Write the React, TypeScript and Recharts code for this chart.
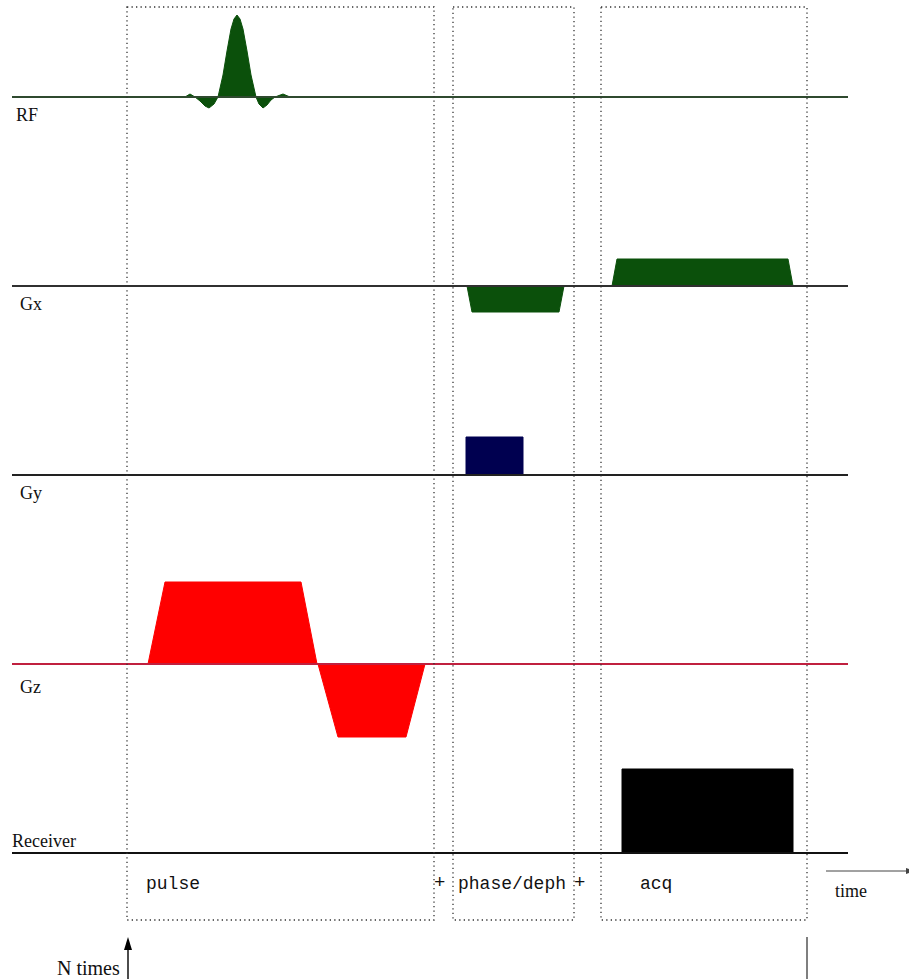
import React from 'react';
import { ComposedChart, Area, XAxis, YAxis, ReferenceLine, ReferenceArea, ReferenceDot } from 'recharts';

// time in ms (t = 0 at the start of the repeated block), amplitude in arbitrary units
const rfPulse = [
  { t: 5.7, v: 0 }, { t: 6.2, v: 0.3 }, { t: 6.7, v: 0 },
  { t: 7.2, v: -0.4 }, { t: 7.7, v: -0.9 }, { t: 8.1, v: -1.1 }, { t: 8.6, v: -0.7 }, { t: 9.0, v: 0 },
  { t: 9.5, v: 2.2 }, { t: 9.9, v: 4.6 }, { t: 10.3, v: 6.8 }, { t: 10.6, v: 7.8 }, { t: 10.9, v: 8.2 },
  { t: 11.2, v: 7.8 }, { t: 11.5, v: 6.8 }, { t: 11.9, v: 4.6 }, { t: 12.3, v: 2.2 }, { t: 12.8, v: 0 },
  { t: 13.1, v: -0.7 }, { t: 13.5, v: -1.1 }, { t: 13.9, v: -0.8 }, { t: 14.3, v: -0.3 }, { t: 14.7, v: 0 },
  { t: 15.5, v: 0.3 }, { t: 16.2, v: 0 },
];

const gxWave = [
  { t: 33.9, v: 0 }, { t: 34.4, v: -2.6 }, { t: 43.1, v: -2.6 }, { t: 43.6, v: 0 },
  { t: 48.4, v: 0 }, { t: 48.9, v: 2.7 }, { t: 66.0, v: 2.7 }, { t: 66.5, v: 0 },
];

const gyWave = [
  { t: 33.8, v: 0 }, { t: 33.8, v: 3.8 }, { t: 39.5, v: 3.8 }, { t: 39.5, v: 0 },
];

const gzWave = [
  { t: 2.0, v: 0 }, { t: 3.7, v: 8.2 }, { t: 17.3, v: 8.2 }, { t: 18.9, v: 0 },
  { t: 19.0, v: 0 }, { t: 21.0, v: -7.3 }, { t: 27.8, v: -7.3 }, { t: 29.7, v: 0 },
];

const receiverWave = [
  { t: 49.4, v: 0 }, { t: 49.4, v: 8.4 }, { t: 66.5, v: 8.4 }, { t: 66.5, v: 0 },
];

const channelLabels = ['RF', 'Gx', 'Gy', 'Gz', 'Receiver'];
const blockLabels = ['pulse', 'phase/deph', 'acq'];
const blockStart = [-0.1, 32.5, 47.3];
const blockEnd = [30.6, 44.6, 67.9];

const X_DOMAIN: [number, number] = [-12.8, 78.1];
const ROW_DOMAIN: [number, number] = [-9.9, 9.0];
const LINE_START = -11.6;
const LINE_END = 72.0;

const serif = '"Liberation Serif", "Times New Roman", serif';
const mono = '"Liberation Mono", "Courier New", monospace';

const rows = [
  { data: rfPulse, fill: '#0b500b', line: '#2f4a2f', top: 7 },
  { data: gxWave, fill: '#0b500b', line: '#303030', top: 196 },
  { data: gyWave, fill: '#000050', line: '#222', top: 385 },
  { data: gzWave, fill: '#ff0000', line: '#c0203f', top: 574 },
  { data: receiverWave, fill: '#000000', line: '#111', top: 763 },
];

const labelPos = [
  { x: 16, y: 104 }, { x: 20, y: 293 }, { x: 20, y: 482 }, { x: 20, y: 676 }, { x: 12, y: 830 },
];

const Row = ({ data, fill, line, top }: any) => (
  <div style={{ position: 'absolute', left: 0, top }}>
    <ComposedChart width={909} height={189} data={data} margin={{ top: 0, right: 0, bottom: 0, left: 0 }}>
      <XAxis type="number" dataKey="t" domain={X_DOMAIN} hide allowDataOverflow />
      <YAxis type="number" domain={ROW_DOMAIN} hide allowDataOverflow />
      <Area
        type="linear"
        dataKey="v"
        baseValue={0}
        fill={fill}
        fillOpacity={1}
        stroke={fill}
        strokeWidth={1}
        dot={false}
        activeDot={false}
        isAnimationActive={false}
      />
      <ReferenceLine
        segment={[{ x: LINE_START, y: 0 }, { x: LINE_END, y: 0 }]}
        stroke={line}
        strokeWidth={1.8}
      />
    </ComposedChart>
  </div>
);

const ArrowUp = ({ cx, cy }: any) => (
  <polygon points={`${cx},${cy} ${cx - 4},${cy + 13} ${cx + 4},${cy + 13}`} fill="#000" />
);
const ArrowRight = ({ cx, cy }: any) => (
  <polygon points={`${cx + 6},${cy} ${cx - 3},${cy - 3} ${cx - 3},${cy + 3}`} fill="#444" />
);

const text = (content: string, x: number, y: number, font: string, size = 18) => (
  <div
    key={content + x}
    style={{
      position: 'absolute', left: x, top: y, fontFamily: font, fontSize: size,
      lineHeight: `${size + 4}px`, color: '#111', whiteSpace: 'nowrap',
    }}
  >
    {content}
  </div>
);

export default function App() {
  return (
    <div style={{ position: 'absolute', left: 0, top: 0, width: 909, height: 979, background: '#fff', overflow: 'hidden' }}>
      {rows.map((r, i) => (
        <Row key={channelLabels[i]} {...r} />
      ))}

      <div style={{ position: 'absolute', left: 0, top: 0 }}>
        {/* page overlay: y in units of 10 px from the top */}
        <ComposedChart width={909} height={979} data={[]} margin={{ top: 0, right: 0, bottom: 0, left: 0 }}>
          <XAxis type="number" dataKey="t" domain={X_DOMAIN} hide allowDataOverflow />
          <YAxis type="number" domain={[0, 97.9]} reversed hide allowDataOverflow />
          {blockStart.map((s, i) => (
            <ReferenceArea
              key={blockLabels[i]}
              x1={s}
              x2={blockEnd[i]}
              y1={0.7}
              y2={92.0}
              fill="none"
              fillOpacity={0}
              stroke="#333"
              strokeWidth={1.3}
              strokeDasharray="1.3 3.2"
            />
          ))}
          <ReferenceLine segment={[{ x: 0, y: 94.5 }, { x: 0, y: 97.9 }]} stroke="#000" strokeWidth={1.4} />
          <ReferenceDot x={0} y={93.7} r={1} shape={ArrowUp} />
          <ReferenceLine segment={[{ x: 67.9, y: 93.7 }, { x: 67.9, y: 97.9 }]} stroke="#555" strokeWidth={1.5} />
          <ReferenceLine segment={[{ x: 69.8, y: 87.1 }, { x: 78.1, y: 87.1 }]} stroke="#444" strokeWidth={1} />
          <ReferenceDot x={78.1} y={87.1} r={1} shape={ArrowRight} ifOverflow="visible" />
        </ComposedChart>
      </div>

      {channelLabels.map((l, i) => text(l, labelPos[i].x, labelPos[i].y, serif))}
      {text(blockLabels[0], 146, 873, mono, 18)}
      {text(blockLabels[1], 458, 873, mono, 18)}
      {text(blockLabels[2], 640, 873, mono, 18)}
      {text('+', 434, 872, mono, 19)}
      {text('+', 574, 872, mono, 19)}
      {text('time', 835, 880, serif)}
      {text('N times', 57, 956, serif, 20)}
    </div>
  );
}
